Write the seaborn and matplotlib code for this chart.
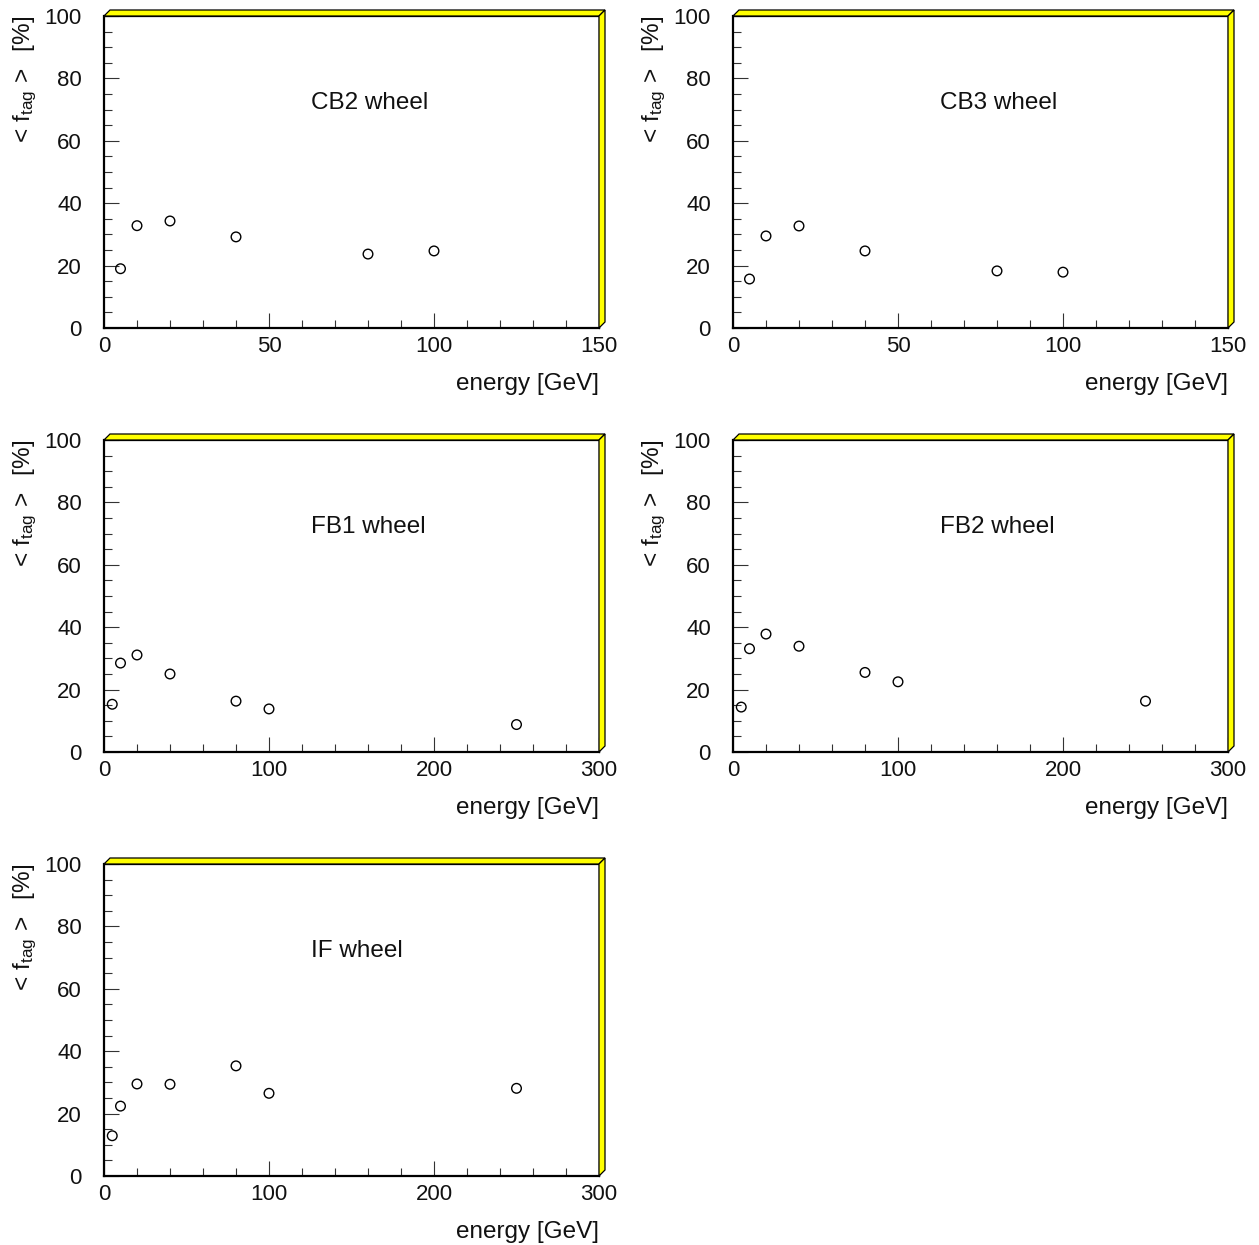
import matplotlib
matplotlib.use("Agg")
import matplotlib.pyplot as plt
import pandas as pd
import seaborn as sns
from matplotlib.patches import Polygon
from matplotlib.ticker import MultipleLocator

# beam energies [GeV]
energy_short = [5, 10, 20, 40, 80, 100]
energy_long = [5, 10, 20, 40, 80, 100, 250]

# mean tagged fraction <f_tag> [%] per wheel
cb2_ftag = [19.0, 32.8, 34.3, 29.2, 23.7, 24.7]
cb3_ftag = [15.7, 29.5, 32.7, 24.7, 18.3, 17.9]
fb1_ftag = [15.3, 28.5, 31.1, 25.0, 16.3, 13.8, 8.8]
fb2_ftag = [14.4, 33.1, 37.8, 33.9, 25.5, 22.5, 16.3]
if_ftag = [12.9, 22.4, 29.5, 29.4, 35.3, 26.5, 28.1]

wheel_names = ["CB2 wheel", "CB3 wheel", "FB1 wheel", "FB2 wheel", "IF wheel"]
x_label = "energy [GeV]"
y_label = r"$<\,\mathrm{f}_{\mathrm{tag}}\,>$  [%]"

W, H = 1259, 1245
DPI = 100

sns.set_theme(style="white")
plt.rcParams["font.family"] = ["Liberation Sans", "DejaVu Sans"]
plt.rcParams["mathtext.fontset"] = "custom"
plt.rcParams["mathtext.rm"] = "Liberation Sans"
plt.rcParams["mathtext.it"] = "Liberation Sans"

fig = plt.figure(figsize=(W / DPI, H / DPI), dpi=DPI)
fig.patch.set_facecolor("white")

panels = [
    (wheel_names[0], energy_short, cb2_ftag, 150, 50, 10, (104, 16, 599, 328)),
    (wheel_names[1], energy_short, cb3_ftag, 150, 50, 10, (733, 16, 1228, 328)),
    (wheel_names[2], energy_long, fb1_ftag, 300, 100, 20, (104, 440, 599, 752)),
    (wheel_names[3], energy_long, fb2_ftag, 300, 100, 20, (733, 440, 1228, 752)),
    (wheel_names[4], energy_long, if_ftag, 300, 100, 20, (104, 864, 599, 1176)),
]


def fx(x):
    return x / W


def fy(y):
    return 1 - y / H


depth = 6  # px, thickness of the raised frame

for name, xs, ys, xmax, major, minor, (L, T, R, B) in panels:
    ax = fig.add_axes([fx(L), fy(B), fx(R) - fx(L), fy(T) - fy(B)])
    df = pd.DataFrame({"energy": xs, "ftag": ys})
    sns.scatterplot(data=df, x="energy", y="ftag", ax=ax, marker="o", s=48,
                    facecolors="none", edgecolor="black", linewidth=1.0,
                    zorder=5, clip_on=False)
    ax.set_xlim(0, xmax)
    ax.set_ylim(0, 100)
    ax.xaxis.set_major_locator(MultipleLocator(major))
    ax.xaxis.set_minor_locator(MultipleLocator(minor))
    ax.yaxis.set_major_locator(MultipleLocator(20))
    ax.yaxis.set_minor_locator(MultipleLocator(5))
    ax.tick_params(axis="both", which="both", bottom=True, left=True,
                   top=False, right=False)
    ax.tick_params(axis="both", which="major", direction="in", length=11,
                   width=0.8, color="#333333", labelsize=16, labelcolor="#111111")
    ax.tick_params(axis="both", which="minor", direction="in", length=5.5,
                   width=0.8, color="#333333")
    ax.tick_params(axis="x", which="major", pad=6)
    ax.tick_params(axis="y", which="major", pad=16)
    for side in ["left", "bottom"]:
        ax.spines[side].set_linewidth(1.6)
        ax.spines[side].set_color("black")
    for side in ["top", "right"]:
        ax.spines[side].set_linewidth(0.9)
        ax.spines[side].set_color("black")
    ax.set_xlabel(x_label, fontsize=17.5, loc="right", labelpad=11,
                  color="#111111")
    ax.set_ylabel(y_label, fontsize=17.5, loc="top", labelpad=4,
                  color="#111111")
    ax.text(0.418, 0.722, name, transform=ax.transAxes, fontsize=17.5,
            ha="left", va="center", color="#111111")

    # raised yellow frame on the top and right edges
    top_band = [(L, T), (R, T), (R + depth, T - depth), (L + depth, T - depth)]
    right_band = [(R, T), (R + depth, T - depth), (R + depth, B - depth), (R, B)]
    for band in (top_band, right_band):
        fig.add_artist(Polygon([(fx(x), fy(y)) for x, y in band], closed=True,
                               facecolor="#ffff00", edgecolor="black",
                               linewidth=0.9, transform=fig.transFigure))

fig.savefig("out.png", dpi=DPI, facecolor="white")
